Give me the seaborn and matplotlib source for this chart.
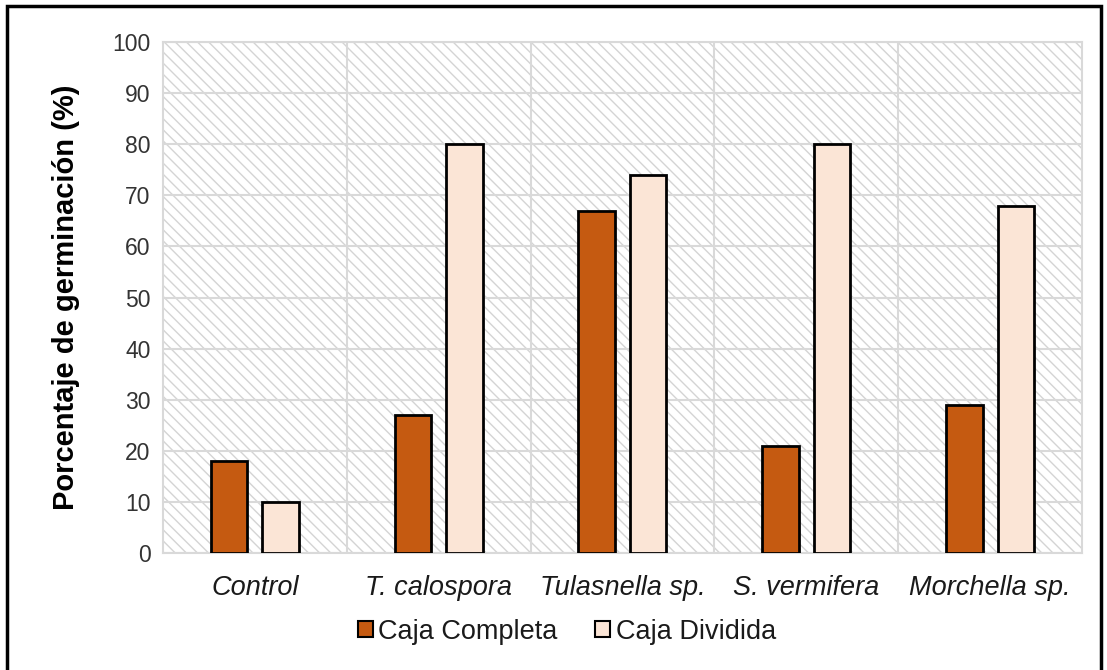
import matplotlib
matplotlib.use("Agg")
import matplotlib.pyplot as plt
from matplotlib.patches import Rectangle, Patch
import seaborn as sns
import pandas as pd

# Germination data per fungal treatment and box type
treatments = ["Control", "T. calospora", "Tulasnella sp.", "S. vermifera", "Morchella sp."]
caja_completa = [18, 27, 67, 21, 29]
caja_dividida = [10, 80, 74, 80, 68]
series_names = ["Caja Completa", "Caja Dividida"]
colors = ["#C55A11", "#FBE5D6"]
y_ticks = list(range(0, 101, 10))

df = pd.DataFrame({
    "Tratamiento": treatments * 2,
    "Germinacion": caja_completa + caja_dividida,
    "Caja": [series_names[0]] * len(treatments) + [series_names[1]] * len(treatments),
})

sns.set_theme(style="white")
plt.rcParams["font.family"] = ["Liberation Sans", "DejaVu Sans"]
plt.rcParams["hatch.linewidth"] = 1.0

fig = plt.figure(figsize=(11.07, 6.70), dpi=100)
ax = fig.add_axes([0.1472, 0.1746, 0.8302, 0.7627])

# Diagonal-hatched plot area background
bg = Rectangle((0, 0), 1, 1, transform=ax.transAxes, facecolor="white",
               edgecolor="#d4d4d4", hatch="\\\\\\", linewidth=0, zorder=0.1)
ax.add_patch(bg)

sns.barplot(data=df, x="Tratamiento", y="Germinacion", hue="Caja",
            palette=colors, saturation=1, edgecolor="black", linewidth=2.0,
            width=0.56, gap=0.29, legend=False, ax=ax, zorder=3)

ax.set_ylim(0, 100)
ax.set_xlim(-0.5, len(treatments) - 0.5)
ax.set_yticks(y_ticks)
ax.set_yticklabels([str(t) for t in y_ticks])
ax.set_xticks(range(len(treatments)))
ax.set_xticklabels(treatments, fontstyle="italic", fontsize=19.5, color="#1a1a1a")
ax.set_xticks([i + 0.5 for i in range(len(treatments) - 1)], minor=True)

ax.set_axisbelow(True)
ax.grid(axis="y", which="major", color="#d9d9d9", linewidth=1.5)
ax.grid(axis="x", which="minor", color="#d9d9d9", linewidth=1.5)
ax.grid(axis="x", which="major", visible=False)

ax.tick_params(axis="y", labelsize=16.5, labelcolor="#333333", length=0, pad=9)
ax.tick_params(axis="x", which="major", length=0, pad=16)
ax.tick_params(axis="x", which="minor", length=0)

for side in ["left", "right", "top", "bottom"]:
    ax.spines[side].set_color("#d9d9d9")
    ax.spines[side].set_linewidth(1.5)

ax.set_xlabel("")
ax.set_ylabel("Porcentaje de germinación (%)", fontsize=21, fontweight="bold",
              color="black", labelpad=23)

handles = [Patch(facecolor=c, edgecolor="black", linewidth=1.5) for c in colors]
fig.legend(handles, series_names, loc="center", bbox_to_anchor=(0.512, 0.057),
           ncol=2, frameon=False, fontsize=19.5, handlelength=0.55, handleheight=0.55,
           handletextpad=0.2, columnspacing=1.4, labelcolor="#1a1a1a")

# Outer frame around the figure
frame = Rectangle((7 / 1107, -0.05), (1101 - 7) / 1107, 1.05 - 6 / 670,
                  transform=fig.transFigure, fill=False, edgecolor="black",
                  linewidth=2.5, zorder=10)
fig.patches.append(frame)

fig.savefig("out.png", dpi=100)
